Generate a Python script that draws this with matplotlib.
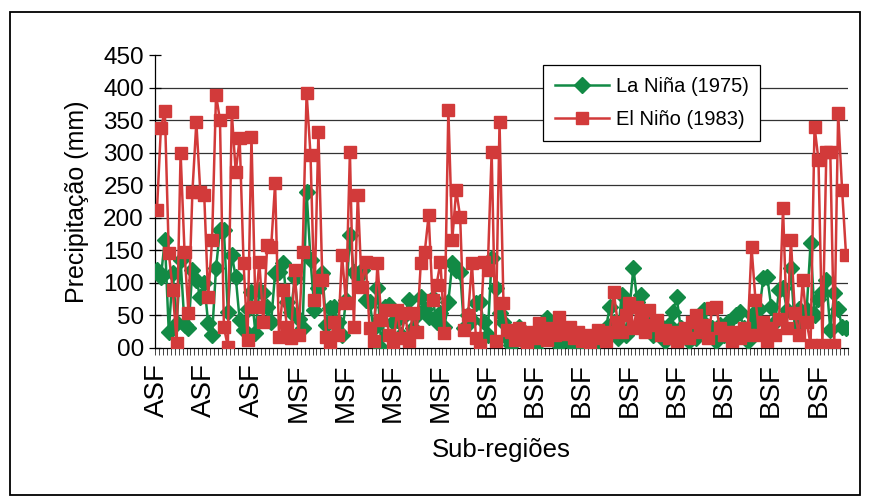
import numpy as np
import matplotlib
matplotlib.use("Agg")
import matplotlib.pyplot as plt
from matplotlib.patches import Rectangle

plt.rcParams['font.family'] = ['Liberation Sans', 'DejaVu Sans']

el_nino_1983 = [
    212, 338, 364, 146, 89, 8, 300, 147, 54, 240, 347, 240, 235, 78, 166, 389,
    350, 32, 2, 362, 270, 322, 130, 12, 324, 63, 132, 40, 158, 155, 253, 17,
    89, 32, 15, 120, 20, 147, 392, 296, 74, 332, 104, 17, 5, 40, 20, 143,
    69, 301, 32, 235, 94, 132, 30, 10, 130, 43, 58, 20, 5, 58, 15, 54,
    10, 54, 25, 130, 147, 204, 74, 97, 132, 23, 366, 166, 243, 201, 28, 51,
    130, 15, 5, 132, 120, 301, 10, 347, 69, 28, 25, 12, 30, 18, 8, 25,
    15, 38, 25, 12, 30, 20, 48, 30, 22, 32, 15, 25, 10, 20, 8, 15,
    28, 20, 10, 25, 86, 40, 25, 50, 69, 30, 63, 45, 25, 58, 35, 43,
    20, 28, 15, 25, 10, 20, 30, 15, 40, 51, 25, 35, 15, 61, 63, 30,
    20, 25, 10, 25, 15, 30, 20, 155, 74, 20, 40, 10, 30, 20, 45, 215,
    30, 166, 54, 20, 104, 40, 5, 340, 289, 5, 301, 301, 5, 361, 243, 143,
]

la_nina_1975 = [
    120, 109, 166, 25, 115, 38, 135, 35, 30, 120, 104, 78, 100, 38, 20, 123,
    181, 181, 55, 143, 109, 43, 28, 60, 86, 23, 89, 84, 63, 40, 115, 117,
    130, 71, 55, 107, 45, 31, 240, 135, 58, 92, 115, 35, 61, 63, 40, 20,
    74, 174, 117, 109, 120, 74, 71, 30, 92, 0, 63, 66, 40, 43, 20, 50,
    74, 30, 50, 78, 60, 48, 77, 40, 54, 32, 71, 130, 120, 117, 30, 50,
    43, 69, 71, 40, 20, 138, 92, 54, 40, 15, 5, 10, 32, 15, 5, 10,
    0, 15, 20, 46, 25, 10, 5, 15, 20, 8, 15, 5, 10, 2, 10, 5,
    10, 20, 30, 63, 40, 15, 81, 20, 60, 123, 70, 81, 45, 30, 20, 40,
    23, 10, 35, 55, 78, 30, 20, 10, 30, 15, 45, 58, 20, 30, 10, 35,
    20, 40, 25, 50, 55, 30, 10, 50, 35, 60, 107, 109, 63, 40, 89, 92,
    58, 123, 30, 60, 40, 58, 161, 50, 75, 86, 104, 28, 84, 60, 32, 31,
]

tick_labels = ["ASF", "ASF", "ASF", "MSF", "MSF", "MSF", "MSF",
               "BSF", "BSF", "BSF", "BSF", "BSF", "BSF", "BSF", "BSF"]
label_step = 12
y_ticks = [0, 50, 100, 150, 200, 250, 300, 350, 400, 450]
y_tick_labels = ["00", "50", "100", "150", "200", "250", "300", "350", "400", "450"]

n = len(el_nino_1983)
x = np.arange(n)

W, H = 869, 500
fig = plt.figure(figsize=(W / 100, H / 100), dpi=100)
fig.patch.set_facecolor("white")
fig.patches.append(Rectangle((10 / W, 1 - 495 / H), 850 / W, 483 / H,
                             transform=fig.transFigure, fill=False,
                             edgecolor="black", linewidth=1.3))

ax = fig.add_axes([155 / W, 1 - 348 / H, 693 / W, 293 / H])

red = "#D23A3A"
green = "#128A45"

ax.plot(x, la_nina_1975, color=green, lw=1.8, marker="D", markersize=8,
        markeredgecolor=green, markerfacecolor=green, label="La Niña (1975)", zorder=3)
ax.plot(x, el_nino_1983, color=red, lw=1.8, marker="s", markersize=9,
        markeredgecolor=red, markerfacecolor=red, label="El Niño (1983)", zorder=4)

ax.set_xlim(-0.5, n - 0.5)
ax.set_ylim(0, 450)

for yv in y_ticks[1:-1]:
    ax.axhline(yv, color="#333333", lw=0.9, zorder=1)

ax.set_yticks(y_ticks)
ax.set_yticklabels(y_tick_labels, fontsize=17.5)
ax.tick_params(axis="y", direction="inout", length=8, width=0.9, pad=4)

major_pos = np.arange(0, n, label_step)[:len(tick_labels)]
ax.set_xticks(major_pos)
ax.set_xticklabels(tick_labels, rotation=90, fontsize=20)
ax.tick_params(axis="x", which="major", length=0, pad=11)
ax.set_xticks(np.arange(-0.5, n, 1), minor=True)
ax.tick_params(axis="x", which="minor", direction="out", length=5, width=0.7, color="#444444")

for s in ["top", "right"]:
    ax.spines[s].set_visible(False)
ax.spines["left"].set_linewidth(0.9)
ax.spines["bottom"].set_linewidth(0.9)

ax.set_ylabel("Precipitação (mm)", fontsize=18, labelpad=10)
ax.set_xlabel("Sub-regiões", fontsize=18.5, labelpad=12)

handles, labels = ax.get_legend_handles_labels()
leg = ax.legend(handles, labels, loc="upper left",
                bbox_to_anchor=((543 - 155) / 693, (348 - 65) / 293),
                fontsize=14.5, frameon=True, fancybox=False, edgecolor="black",
                handlelength=2.7, handletextpad=0.3, borderpad=0.6,
                labelspacing=0.7, framealpha=1, borderaxespad=0)
leg.get_frame().set_linewidth(0.9)
leg.set_zorder(10)

fig.savefig("out.png", dpi=100, facecolor="white")
